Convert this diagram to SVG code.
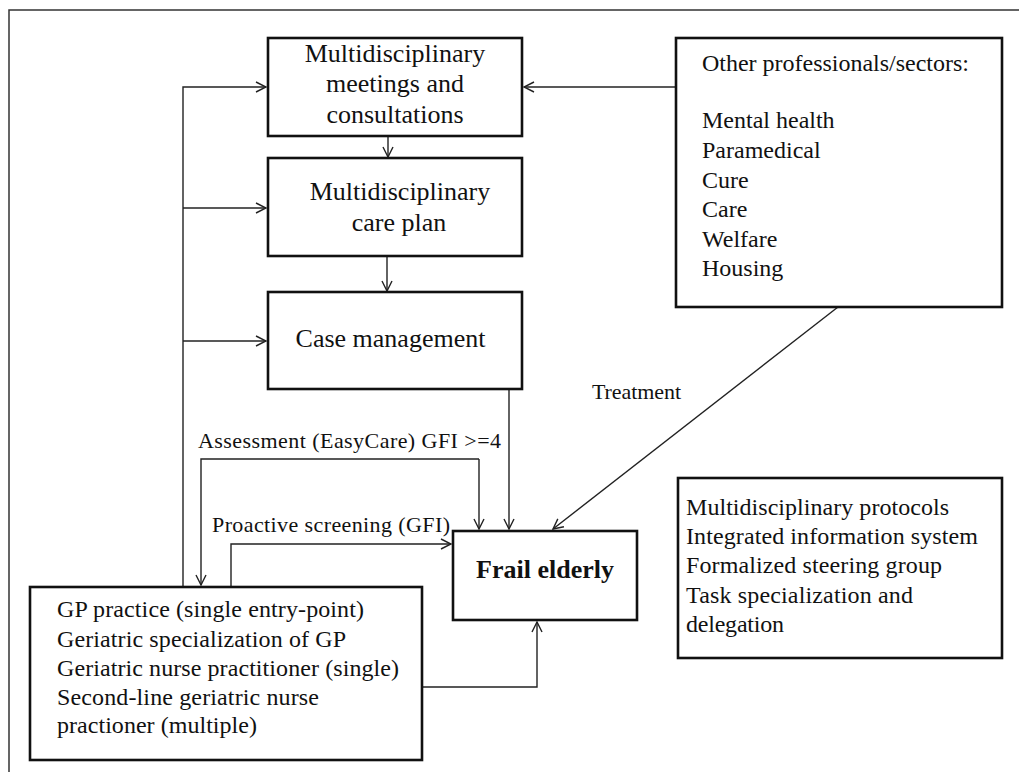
<svg xmlns="http://www.w3.org/2000/svg" width="1019" height="772" viewBox="0 0 1019 772">
<style>
  text { font-family: "Liberation Serif", "Times New Roman", serif; fill: #111; }
  .t26 { font-size: 26px; }
  .t24 { font-size: 24px; }
  .t22 { font-size: 22px; }
  .box { fill: #fff; stroke: #111; stroke-width: 2.6; }
  .conn { fill: none; stroke: #222; stroke-width: 1.4; }
  .frame { fill: none; stroke: #333; stroke-width: 1.5; }
</style>
<defs>
  <marker id="arr" markerUnits="userSpaceOnUse" markerWidth="12" markerHeight="12" viewBox="0 0 12 12" refX="11" refY="6" orient="auto">
    <path d="M1,1 L11,6 L1,11" fill="none" stroke="#222" stroke-width="1.4"/>
  </marker>
</defs>
<rect width="1019" height="772" fill="#fff"/>
<path class="frame" d="M9,772 L9,10 L1019,10"/>

<g id="connectors">
  <path class="conn" d="M183,587 L183,87 L266,87" marker-end="url(#arr)"/>
  <path class="conn" d="M183,208 L266,208" marker-end="url(#arr)"/>
  <path class="conn" d="M183,341 L266,341" marker-end="url(#arr)"/>
  <path class="conn" d="M388,137 L388,157" marker-end="url(#arr)"/>
  <path class="conn" d="M387,257 L387,291" marker-end="url(#arr)"/>
  <path class="conn" d="M675,87 L524,87" marker-end="url(#arr)"/>
  <path class="conn" d="M509,390 L509,529" marker-end="url(#arr)"/>
  <path class="conn" d="M838,307 L553,529" marker-end="url(#arr)"/>
  <path class="conn" d="M479,459 L479,529" marker-end="url(#arr)"/>
  <path class="conn" d="M479,459 L201,459 L201,585" marker-end="url(#arr)"/>
  <path class="conn" d="M231,587 L231,544 L451,544" marker-end="url(#arr)"/>
  <path class="conn" d="M423,687 L537,687 L537,622" marker-end="url(#arr)"/>
  <text class="t22" x="198" y="448" textLength="303" lengthAdjust="spacing">Assessment (EasyCare) GFI &gt;=4</text>
  <text class="t22" x="212" y="532" textLength="238" lengthAdjust="spacing">Proactive screening (GFI)</text>
  <text class="t22" x="592" y="399" textLength="89" lengthAdjust="spacing">Treatment</text>
</g>

<g id="meetings">
  <rect class="box" x="268" y="38" width="254" height="98"/>
  <text class="t26" x="395" y="62" text-anchor="middle">Multidisciplinary</text>
  <text class="t26" x="395" y="92" text-anchor="middle">meetings and</text>
  <text class="t26" x="395" y="123" text-anchor="middle">consultations</text>
</g>

<g id="careplan">
  <rect class="box" x="268" y="158" width="254" height="98"/>
  <text class="t26" x="400" y="200" text-anchor="middle">Multidisciplinary</text>
  <text class="t26" x="399" y="231" text-anchor="middle">care plan</text>
</g>

<g id="casemanagement">
  <rect class="box" x="268" y="292" width="254" height="97"/>
  <text class="t26" x="390.5" y="347" text-anchor="middle">Case management</text>
</g>

<g id="others">
  <rect class="box" x="676" y="38" width="326" height="269"/>
  <text class="t24" x="702" y="71" textLength="267" lengthAdjust="spacing">Other professionals/sectors:</text>
  <text class="t24" x="702" y="128">Mental health</text>
  <text class="t24" x="702" y="158">Paramedical</text>
  <text class="t24" x="702" y="188">Cure</text>
  <text class="t24" x="702" y="217">Care</text>
  <text class="t24" x="702" y="247">Welfare</text>
  <text class="t24" x="702" y="276">Housing</text>
</g>

<g id="frail">
  <rect class="box" x="453" y="531" width="184" height="89"/>
  <text class="t26" x="545" y="578" text-anchor="middle" font-weight="bold">Frail elderly</text>
</g>

<g id="gp">
  <rect class="box" x="30" y="587" width="392" height="173"/>
  <text class="t24" x="57" y="617" textLength="307" lengthAdjust="spacing">GP practice (single entry-point)</text>
  <text class="t24" x="57" y="647" textLength="289" lengthAdjust="spacing">Geriatric specialization of GP</text>
  <text class="t24" x="57" y="676" textLength="342" lengthAdjust="spacing">Geriatric nurse practitioner (single)</text>
  <text class="t24" x="57" y="705" textLength="262" lengthAdjust="spacing">Second-line geriatric nurse</text>
  <text class="t24" x="57" y="733" textLength="200" lengthAdjust="spacing">practioner (multiple)</text>
</g>

<g id="organisation">
  <rect class="box" x="678" y="478" width="324" height="180"/>
  <text class="t24" x="686" y="515" textLength="263" lengthAdjust="spacing">Multidisciplinary protocols</text>
  <text class="t24" x="686" y="544" textLength="292" lengthAdjust="spacing">Integrated information system</text>
  <text class="t24" x="686" y="573" textLength="256" lengthAdjust="spacing">Formalized steering group</text>
  <text class="t24" x="686" y="603" textLength="227" lengthAdjust="spacing">Task specialization and</text>
  <text class="t24" x="686" y="632" textLength="98" lengthAdjust="spacing">delegation</text>
</g>
</svg>
